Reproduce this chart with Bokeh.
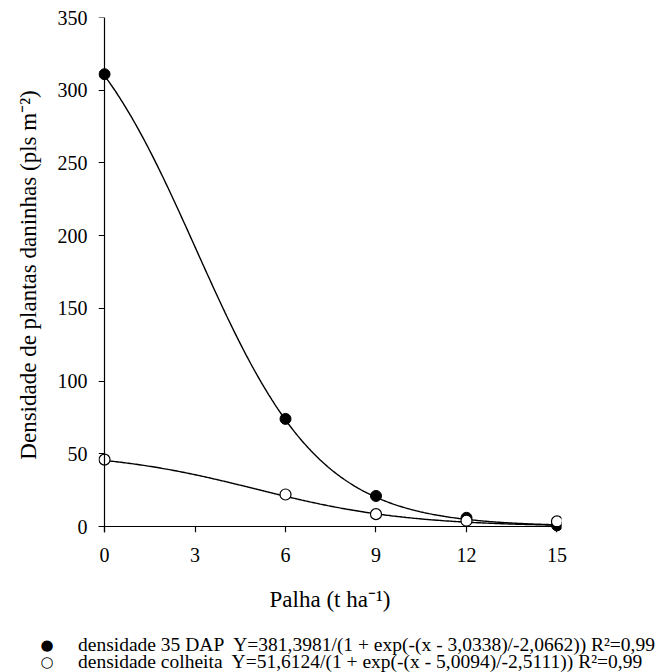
import numpy as np
from bokeh.plotting import figure
from bokeh.layouts import column
from bokeh.models import Range1d, FixedTicker, LinearAxis, Div
from bokeh.embed import file_html
from bokeh.resources import INLINE

# data
palha = [0, 6, 9, 12, 15]
dens_35dap = [311, 74, 21, 6, 0.8]
dens_colheita = [46, 22, 8.5, 4, 3.5]
x_ticks = [0, 3, 6, 9, 12, 15]
y_ticks = [0, 50, 100, 150, 200, 250, 300, 350]

# fitted logistic parameters printed in the legend: a, x0, b
fit_35dap = [381.3981, 3.0338, -2.0662]
fit_colheita = [51.6124, 5.0094, -2.5111]

label_35dap = "densidade 35 DAP&nbsp; Y=381,3981/(1 + exp(-(x - 3,0338)/-2,0662)) R\u00b2=0,99"
label_colheita = "densidade colheita&nbsp; Y=51,6124/(1 + exp(-(x - 5,0094)/-2,5111)) R\u00b2=0,99"

FONT = "Liberation Serif"
FILLED = dict(size=11, fill_color="black", line_color="black", line_width=1)
OPEN = dict(size=11, fill_color="white", line_color="black", line_width=1.2)

def logistic(x, a, x0, b):
    return a / (1 + np.exp(-(x - x0) / b))

xs = np.linspace(0, 15, 301)

p = figure(frame_width=463, frame_height=515, output_backend="svg", toolbar_location=None,
           x_range=Range1d(-0.2, 15.15), y_range=Range1d(-4.12, 350),
           min_border_left=98, min_border_right=103, min_border_top=17, min_border_bottom=100)
p.outline_line_color = None
p.grid.visible = False

p.line(xs, logistic(xs, *fit_35dap), line_color="black", line_width=1.4)
p.line(xs, logistic(xs, *fit_colheita), line_color="black", line_width=1.4)
p.scatter(palha, dens_35dap, **FILLED)
p.scatter(palha, dens_colheita, **OPEN)

# default axes: lines and outward ticks on the zero lines
for ax, ticks in ((p.xaxis[0], x_ticks), (p.yaxis[0], y_ticks)):
    ax.fixed_location = 0
    ax.ticker = FixedTicker(ticks=ticks)
    ax.axis_line_color = "black"
    ax.axis_line_width = 1.2
    ax.major_tick_line_color = "black"
    ax.major_tick_line_width = 1.2
    ax.major_tick_in = 0
    ax.major_tick_out = 6
    ax.minor_tick_line_color = None
    ax.major_label_text_font_size = "1px"
    ax.major_label_text_alpha = 0
    ax.major_label_standoff = 0

# text axes on the frame edges: tick labels and titles
def text_axis(ticks, title, standoff, title_standoff):
    return LinearAxis(ticker=FixedTicker(ticks=ticks), axis_label=title,
                      axis_line_color=None, major_tick_line_color=None,
                      minor_tick_line_color=None, major_tick_in=0, major_tick_out=0,
                      major_label_text_font=FONT, major_label_text_font_size="20px",
                      major_label_text_color="black", major_label_standoff=standoff,
                      axis_label_text_font=FONT, axis_label_text_font_size="23px",
                      axis_label_text_font_style="normal", axis_label_text_color="black",
                      axis_label_standoff=title_standoff)

p.add_layout(text_axis(x_ticks, "Palha (t ha\u207b\u00b9)", 15, 22), "below")
p.add_layout(text_axis(y_ticks, "Densidade de plantas daninhas (pls m\u207b\u00b2)", 11, 14), "left")

# legend strip underneath
marker_style = ("position:absolute;left:37px;width:20px;text-align:center;"
                "font-family:'DejaVu Sans';font-size:15px;line-height:18px;")
text_style = ("position:absolute;left:78px;white-space:nowrap;"
              "font-family:'Liberation Serif';font-size:19.5px;line-height:18px;")
legend_html = (
    "<div style=\"position:relative;width:664px;height:40px;color:black;\">"
    f"<span style=\"{marker_style}top:4px;\">\u25cf</span>"
    f"<span style=\"{text_style}top:4px;\">{label_35dap}</span>"
    f"<span style=\"{marker_style}top:21px;\">\u25cb</span>"
    f"<span style=\"{text_style}top:21px;\">{label_colheita}</span>"
    "</div>"
)
legend_div = Div(text=legend_html, width=664, height=40,
                 styles={"margin": "0", "padding": "0"})

layout = column(p, legend_div, spacing=0)
open("out.html", "w").write(file_html(layout, INLINE))
